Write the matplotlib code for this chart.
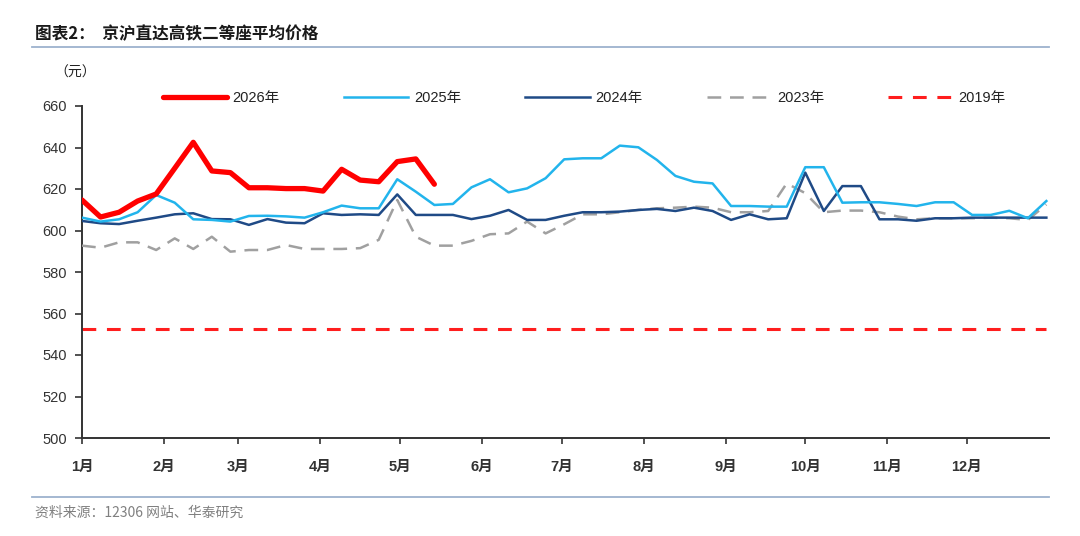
import numpy as np
import pandas as pd
import matplotlib
matplotlib.use("Agg")
import matplotlib.pyplot as plt

# ---------------- data (weekly average price, yuan) ----------------
month_labels = ["1月", "2月", "3月", "4月", "5月", "6月",
                "7月", "8月", "9月", "10月", "11月", "12月"]

s2026 = [614.7, 606.5, 608.8, 614.2, 617.6, 630.0, 642.5, 628.7, 627.9, 620.6,
         620.6, 620.2, 620.2, 619.0, 629.5, 624.3, 623.5, 633.2, 634.5, 622.3]

s2025 = [606.2, 604.3, 605.4, 608.8, 617.1, 613.4, 605.4, 605.1, 604.3, 607.0,
         607.1, 606.8, 606.2, 608.8, 612.0, 610.7, 610.7, 624.7, 618.7, 612.3,
         612.8, 620.8, 624.7, 618.4, 620.3, 625.2, 634.3, 634.8, 634.8, 640.9,
         640.1, 634.0, 626.3, 623.5, 622.7, 611.8, 611.8, 611.5, 611.5, 630.5,
         630.5, 613.4, 613.6, 613.6, 612.8, 611.8, 613.6, 613.6, 607.5, 607.5,
         609.5, 605.9, 614.2]

s2024 = [604.6, 603.5, 603.1, 604.7, 606.2, 607.8, 608.3, 605.5, 605.4, 602.7,
         605.5, 603.8, 603.5, 608.3, 607.5, 607.8, 607.5, 617.4, 607.5, 607.5,
         607.5, 605.5, 607.1, 609.9, 605.1, 605.1, 607.1, 608.8, 608.8, 609.1,
         609.9, 610.4, 609.4, 611.0, 609.4, 605.1, 607.8, 605.4, 605.9, 627.9,
         609.4, 621.4, 621.4, 605.4, 605.4, 604.7, 605.9, 605.9, 606.2, 606.2,
         606.2, 606.2, 606.2]

s2023 = [592.7, 591.7, 594.3, 594.3, 590.6, 596.2, 591.1, 597.0, 589.8, 590.6,
         590.6, 593.0, 591.1, 591.1, 591.1, 591.5, 595.5, 614.7, 597.0, 592.7,
         592.7, 595.0, 598.2, 598.6, 604.3, 598.6, 603.0, 607.8, 607.8, 608.8,
         609.9, 610.7, 611.0, 611.5, 611.0, 608.8, 608.8, 609.4, 622.7, 618.0,
         608.8, 609.6, 609.6, 608.8, 606.7, 605.4, 605.9, 605.9, 605.9, 606.2,
         605.9, 605.1, 612.5]

v2019 = 552.5

# ---------------- styling ----------------
LAT = ["Liberation Sans", "Noto Sans CJK SC", "DejaVu Sans"]
CJK = ["Noto Sans CJK SC", "DejaVu Sans"]
plt.rcParams["font.family"] = LAT

fig = plt.figure(figsize=(10.8, 5.36), dpi=100)
ax = fig.add_axes([82 / 1080, 1 - 438 / 536, (1049 - 82) / 1080, (438 - 106) / 536])

weeks = pd.date_range("2025-01-01", periods=len(s2025), freq="7D")
start, end = pd.Timestamp("2025-01-01"), pd.Timestamp("2026-01-01")

ax.plot([start, weeks[-1]], [v2019, v2019], color="#FF1E1E", lw=2.2,
        dashes=(4.5, 3.5), label="2019年", zorder=2)
ax.plot(weeks, s2023, color="#A0A0A0", lw=1.8, dashes=(5.5, 3.5), label="2023年", zorder=3)
ax.plot(weeks, s2024, color="#1F4A86", lw=1.8, label="2024年", zorder=4)
ax.plot(weeks, s2025, color="#22B4EC", lw=1.8, label="2025年", zorder=5)
ax.plot(weeks[:len(s2026)], s2026, color="#FF0000", lw=3.8, label="2026年",
        zorder=6, solid_capstyle="round", solid_joinstyle="round")

ax.set_xlim(start, end)
ax.set_ylim(500, 660)
ax.set_yticks(np.arange(500, 661, 20))
ax.set_xticks(pd.date_range("2025-01-01", periods=12, freq="MS"))
ax.set_xticklabels(month_labels, fontweight="bold", fontsize=10.5, color="#333333")
for lab in ax.get_yticklabels():
    lab.set_fontsize(10.5)
    lab.set_color("#333333")

for s in ["top", "right"]:
    ax.spines[s].set_visible(False)
for s in ["left", "bottom"]:
    ax.spines[s].set_color("#333333")
    ax.spines[s].set_linewidth(1.4)
ax.tick_params(axis="y", direction="out", length=5, width=1.2, color="#333333", pad=6)
ax.tick_params(axis="x", direction="out", length=4, width=1.2, color="#333333", pad=12)

# legend
handles, labels = ax.get_legend_handles_labels()
order = ["2026年", "2025年", "2024年", "2023年", "2019年"]
hmap = dict(zip(labels, handles))
fig.legend([hmap[k] for k in order], order, loc="center",
           bbox_to_anchor=(584 / 1080, 1 - 98 / 536), ncol=5, frameon=False,
           fontsize=10.5, handlelength=4.4, handletextpad=0.4, columnspacing=4.4,
           labelcolor="#222222")

# title, unit, source
fig.text(35 / 1080, 1 - 34 / 536, "图表2：  京沪直达高铁二等座平均价格", family=CJK,
         fontsize=12, fontweight="bold", color="#1a1a1a", va="center", ha="left")
fig.add_artist(plt.Line2D([32 / 1080, 1049 / 1080], [1 - 47 / 536, 1 - 47 / 536],
                          color="#9DB2CE", lw=1.3))
fig.text(75 / 1080, 1 - 73 / 536, "（元）", family=CJK, fontsize=10,
         color="#222222", va="center", ha="center")
fig.add_artist(plt.Line2D([32 / 1080, 1049 / 1080], [1 - 497 / 536, 1 - 497 / 536],
                          color="#9DB2CE", lw=1.3))
fig.text(35 / 1080, 1 - 513 / 536, "资料来源：12306 网站、华泰研究", family=CJK,
         fontsize=10, color="#808080", va="center", ha="left")

fig.savefig("out.png", dpi=100)
